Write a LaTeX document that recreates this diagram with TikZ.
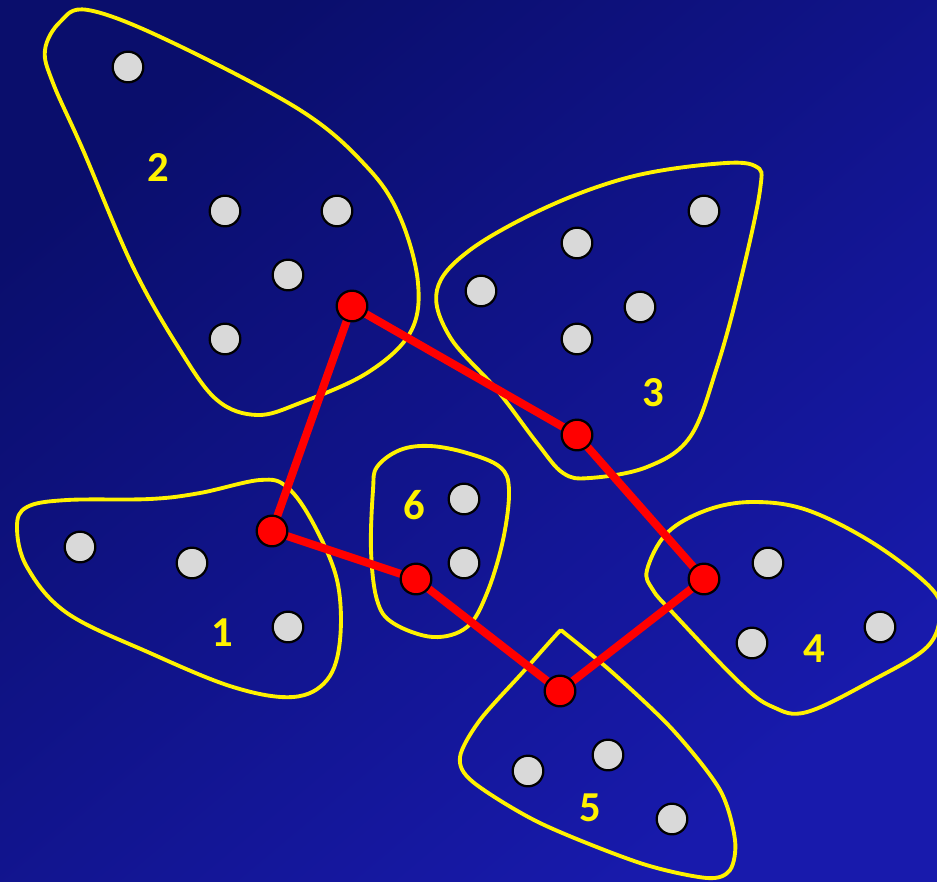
\documentclass[tikz,border=0pt]{standalone}
\usepackage{fontspec}
\setmainfont{Carlito}
\definecolor{dotgray}{RGB}{217,217,217}
\definecolor{bgtl}{RGB}{10,14,108}
\definecolor{bgbr}{RGB}{24,26,172}
\pgfdeclarelayer{back}
\pgfsetlayers{back,main}
\begin{document}
\begin{tikzpicture}[x=0.75pt,y=-0.75pt,
  gdot/.style={circle,draw=black,line width=1.7pt,fill=dotgray,minimum size=23pt,inner sep=0pt},
  rdot/.style={gdot,fill=red},
  blob/.style={draw=yellow,line width=2.9pt},
  link/.style={draw=red,line width=6pt},
  lbl/.style={text=yellow,font=\fontsize{32}{32}\selectfont\bfseries}]
\useasboundingbox (0,0) rectangle (937,881);
\clip (0,0) rectangle (937,881);

% red dots (cluster representatives)
\node[rdot] (r2) at (352,306) {};
\node[rdot] (r1) at (272,531) {};
\node[rdot] (r3) at (577,435) {};
\node[rdot] (r4) at (704,579) {};
\node[rdot] (r5) at (560,691) {};
\node[rdot] (r6) at (416,579) {};

\begin{pgfonlayer}{back}
\shade[top color=bgtl,bottom color=bgbr,shading angle=40] (0,0) rectangle (937,881);
% cluster outlines
\draw[blob] plot[smooth cycle,tension=0.6] coordinates {(88,10) (167,40) (300,110) (367,167) (400,217) (418,283) (410,333) (367,373) (300,403) (257,415) (217,400) (180,350) (133,267) (83,150) (53,83) (45,50) (60,22)};
\draw[blob] plot[smooth cycle,tension=0.6] coordinates {(755,166) (713,164) (630,177) (547,207) (470,250) (437,290) (450,337) (497,390) (537,443) (563,473) (590,478) (647,467) (690,437) (717,367) (740,283) (760,190)};
\draw[blob] plot[smooth cycle,tension=0.6] coordinates {(17,527) (27,507) (67,500) (150,499) (200,493) (260,480) (287,487) (313,523) (337,580) (340,640) (327,680) (293,697) (233,687) (150,653) (67,613) (27,567)};
\draw[blob] plot[smooth cycle,tension=0.6] coordinates {(377,467) (400,450) (430,446) (467,453) (500,467) (509,490) (503,540) (487,593) (467,627) (433,637) (393,623) (377,600) (371,550) (373,490)};
\draw[blob] plot[smooth cycle,tension=0.6] coordinates {(647,570) (667,533) (707,510) (753,502) (807,510) (873,543) (930,587) (940,613) (927,647) (873,680) (807,712) (773,707) (740,683) (673,613) (653,590)};
\draw[blob] plot[smooth cycle,tension=0.5] coordinates {(556,635) (561,631) (567,635) (613,673) (673,730) (720,790) (735,840) (730,870) (707,878) (640,863) (540,823) (473,782) (460,757) (480,720) (523,672)};
% connectors
\draw[link] (r2.center) -- (r1.center);
\draw[link] (r2.center) -- (r3.center);
\draw[link] (r3.center) -- (r4.center);
\draw[link] (r4.center) -- (r5.center);
\draw[link] (r5.center) -- (r6.center);
\draw[link] (r6.center) -- (r1.center);
\end{pgfonlayer}

% gray dots
\node[gdot] (a1) at (128,67) {};
\node[gdot] (a2) at (225,211) {};
\node[gdot] (a3) at (337,211) {};
\node[gdot] (a4) at (288,275) {};
\node[gdot] (a5) at (225,339) {};
\node[gdot] (b1) at (704,211) {};
\node[gdot] (b2) at (577,243) {};
\node[gdot] (b3) at (481,291) {};
\node[gdot] (b4) at (640,307) {};
\node[gdot] (b5) at (577,339) {};
\node[gdot] (c1) at (80,547) {};
\node[gdot] (c2) at (192,563) {};
\node[gdot] (c3) at (288,627) {};
\node[gdot] (d1) at (464,499) {};
\node[gdot] (d2) at (464,563) {};
\node[gdot] (e1) at (768,563) {};
\node[gdot] (e2) at (752,643) {};
\node[gdot] (e3) at (880,627) {};
\node[gdot] (f1) at (528,771) {};
\node[gdot] (f2) at (608,755) {};
\node[gdot] (f3) at (672,819) {};

% labels
\node[lbl] (l1) at (222,633) {1};
\node[lbl] (l2) at (158,168) {2};
\node[lbl] (l3) at (653,393) {3};
\node[lbl] (l4) at (814,649) {4};
\node[lbl] (l5) at (590,808) {5};
\node[lbl] (l6) at (414,505) {6};
\end{tikzpicture}
\end{document}
